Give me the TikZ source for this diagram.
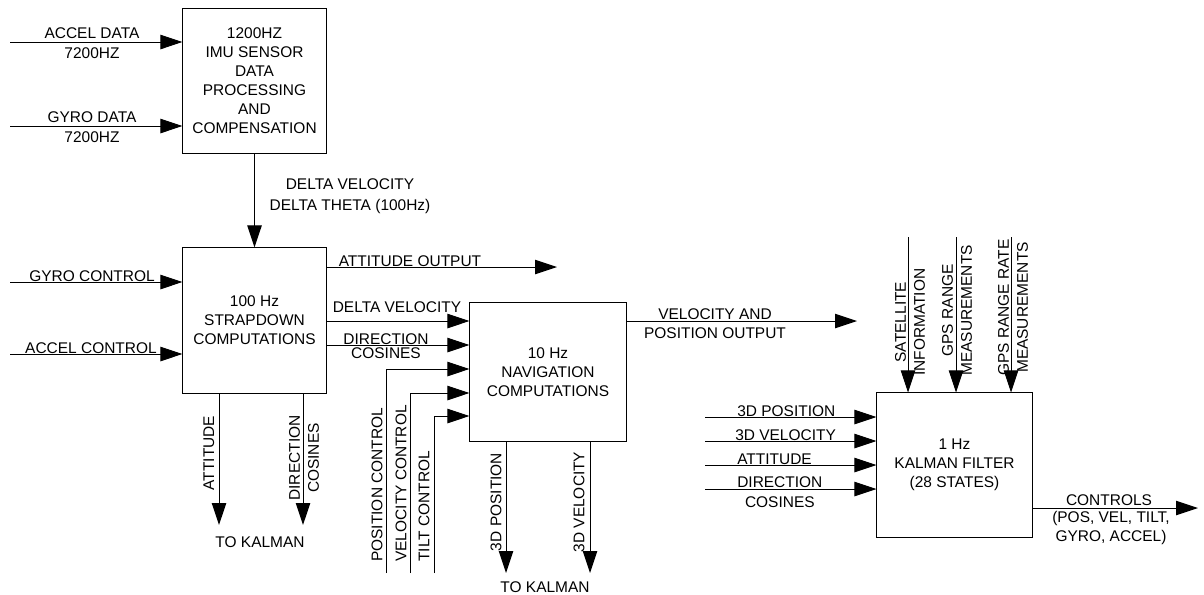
\documentclass[tikz,border=0pt]{standalone}
\usepackage{fontspec}
\setmainfont{Liberation Sans}
\usepackage{tikz}
\usetikzlibrary{positioning,arrows.meta}

\begin{document}
\begin{tikzpicture}[x=0.025cm,y=-0.025cm,font=\fontsize{11}{13.5}\selectfont]
\tikzstyle{block}=[rectangle, draw=black, line width=0.7pt, inner sep=0pt, align=center]
\tikzstyle{flow}=[-{Triangle[length=5.5mm,width=3.6mm]}, line width=0.7pt]
\tikzstyle{lbl}=[inner sep=0pt]
\tikzstyle{vlbl}=[inner sep=0pt, rotate=90, align=center]

\useasboundingbox (0,0) rectangle (1204,594);

% blocks
\node[block, minimum width=35.75mm, minimum height=36mm] (imu) at (254.5,81) {1200HZ\\IMU SENSOR\\DATA\\PROCESSING\\AND\\COMPENSATION};
\node[block, minimum width=35.75mm, minimum height=36.25mm] (sd) at (254.5,320.5) {100 Hz\\STRAPDOWN\\COMPUTATIONS};
\node[block, minimum width=39mm, minimum height=34.5mm] (nav) at (548,372) {10 Hz\\NAVIGATION\\COMPUTATIONS};
\node[block, minimum width=38.75mm, minimum height=36mm] (kf) at (954.5,465) {1 Hz\\KALMAN FILTER\\(28 STATES)};

% free ends
\coordinate (acc_src) at (10,42);
\coordinate (gyr_src) at (10,126);
\coordinate (gc_src) at (10,282);
\coordinate (ac_src) at (10,354);
\coordinate (att_out) at (557,267);
\coordinate (att_k) at (219,525);
\coordinate (dc_k) at (303,525);
\coordinate (pos_c) at (386,573);
\coordinate (vel_c) at (410,573);
\coordinate (tilt_c) at (434,573);
\coordinate (p3_k) at (506,573);
\coordinate (v3_k) at (590,573);
\coordinate (vp_out) at (857,321);
\coordinate (sat_src) at (908,237);
\coordinate (rng_src) at (956,237);
\coordinate (rr_src) at (1011,237);
\coordinate (p3_in) at (705,417);
\coordinate (v3_in) at (705,441);
\coordinate (at_in) at (705,465);
\coordinate (dc_in) at (705,489);
\coordinate (ctl_out) at (1198,508);

% connectors
\draw[flow] (acc_src) -- (acc_src -| imu.west);
\draw[flow] (gyr_src) -- (gyr_src -| imu.west);
\draw[flow] (imu) -- (sd);
\draw[flow] (gc_src) -- (gc_src -| sd.west);
\draw[flow] (ac_src) -- (ac_src -| sd.west);
\draw[flow] (sd.east |- att_out) -- (att_out);
\draw[flow] (sd.east |- 0,321) -- (nav.west |- 0,321);
\draw[flow] (sd.east |- 0,345) -- (nav.west |- 0,345);
\draw[flow] (sd.south -| att_k) -- (att_k);
\draw[flow] (sd.south -| dc_k) -- (dc_k);
\draw[flow] (pos_c) |- (nav.west |- 0,369);
\draw[flow] (vel_c) |- (nav.west |- 0,393);
\draw[flow] (tilt_c) |- (nav.west |- 0,416);
\draw[flow] (nav.south -| p3_k) -- (p3_k);
\draw[flow] (nav.south -| v3_k) -- (v3_k);
\draw[flow] (nav.east |- vp_out) -- (vp_out);
\draw[flow] (sat_src) -- (sat_src |- kf.north);
\draw[flow] (rng_src) -- (rng_src |- kf.north);
\draw[flow] (rr_src) -- (rr_src |- kf.north);
\draw[flow] (p3_in) -- (p3_in -| kf.west);
\draw[flow] (v3_in) -- (v3_in -| kf.west);
\draw[flow] (at_in) -- (at_in -| kf.west);
\draw[flow] (dc_in) -- (dc_in -| kf.west);
\draw[flow] (kf.east |- ctl_out) -- (ctl_out);

% labels
\node[lbl, anchor=base] (l_acc) at (92,38) {ACCEL DATA};
\node[lbl, anchor=base] (l_acc_hz) at (92,58) {7200HZ};
\node[lbl, anchor=base] (l_gyr) at (92,122) {GYRO DATA};
\node[lbl, anchor=base] (l_gyr_hz) at (92,142) {7200HZ};
\node[lbl, align=center] (l_dvdt) at (350,196) {DELTA VELOCITY\\[1.5pt]DELTA THETA (100Hz)};
\node[lbl, anchor=base] (l_gc) at (92,281) {GYRO CONTROL};
\node[lbl, anchor=base] (l_ac) at (91,353) {ACCEL CONTROL};
\node[lbl, anchor=base] (l_ao) at (410,266) {ATTITUDE OUTPUT};
\node[lbl, anchor=base] (l_dv) at (397,312) {DELTA VELOCITY};
\node[lbl, align=center, font=\fontsize{11}{10}\selectfont] (l_dcos) at (386,346) {DIRECTION\\COSINES};
\node[vlbl] (l_att) at (209,453) {ATTITUDE};
\node[vlbl] (l_dck) at (304,458) {DIRECTION\\COSINES};
\node[lbl, anchor=base] (l_tk1) at (260,547) {TO KALMAN};
\node[vlbl, anchor=west] (l_pc) at (377,562) {POSITION CONTROL};
\node[vlbl, anchor=west] (l_vc) at (401,562) {VELOCITY CONTROL};
\node[vlbl, anchor=west] (l_tc) at (424,562) {TILT CONTROL};
\node[vlbl] (l_p3k) at (496,502) {3D POSITION};
\node[vlbl] (l_v3k) at (579,502) {3D VELOCITY};
\node[lbl, anchor=base] (l_tk2) at (545,592) {TO KALMAN};
\node[lbl, align=center] (l_vp) at (715,324) {VELOCITY AND\\POSITION OUTPUT};
\node[vlbl, anchor=west] (l_sat) at (910,376) {SATELLITE\\INFORMATION};
\node[vlbl, anchor=west] (l_rng) at (957,376) {GPS RANGE\\MEASUREMENTS};
\node[vlbl, anchor=west] (l_rr) at (1013,376) {GPS RANGE RATE\\MEASUREMENTS};
\node[lbl, anchor=base west] (l_p3) at (737,416) {3D POSITION};
\node[lbl, anchor=base west] (l_v3) at (735,440) {3D VELOCITY};
\node[lbl, anchor=base west] (l_at) at (737,464) {ATTITUDE};
\node[lbl, align=center, anchor=west] (l_dc2) at (737,492) {DIRECTION\\[1pt]COSINES};
\node[lbl, anchor=base] (l_ctl) at (1109,505) {CONTROLS};
\node[lbl, align=center] (l_ctl2) at (1111,528) {(POS, VEL, TILT,\\GYRO, ACCEL)};

\end{tikzpicture}
\end{document}
